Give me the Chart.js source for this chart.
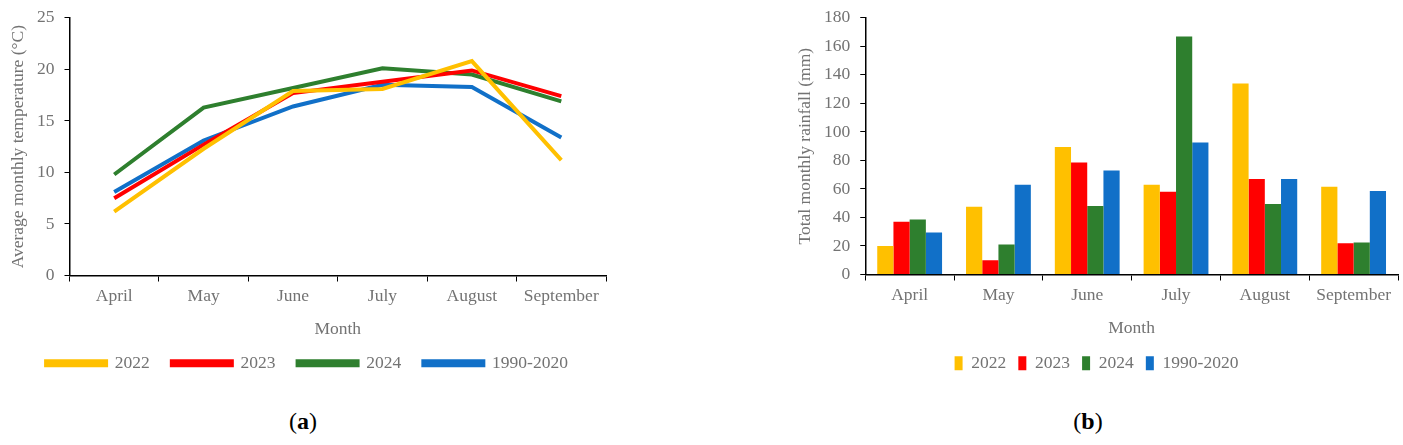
<!DOCTYPE html>
<html>
<head>
<meta charset="utf-8">
<script src="https://cdn.jsdelivr.net/npm/chart.js@4"></script>
<style>
  html, body { margin: 0; padding: 0; background: #fff; }
  body { width: 1403px; height: 445px; position: relative; overflow: hidden; }
  .box { position: absolute; top: 0; }
  #left { left: 0; width: 620px; height: 382px; }
  #right { left: 780px; width: 623px; height: 382px; }
  .cap { position: absolute; top: 408px; font-family: "Liberation Serif", serif; font-size: 24px; color: #000; transform: translateX(-50%); }
</style>
</head>
<body>
<div class="box" id="left"><canvas id="temp-canvas"></canvas></div>
<div class="box" id="right"><canvas id="rain-canvas"></canvas></div>
<div class="cap" style="left:303px">(<b>a</b>)</div>
<div class="cap" style="left:1088px">(<b>b</b>)</div>
<script>
const MONTHS = ['April', 'May', 'June', 'July', 'August', 'September']
const SERIES = ['2022', '2023', '2024', '1990-2020']
const COLORS = ['#FFC000', '#FF0000', '#2E7F2E', '#1170C8']

// average monthly temperature (°C)
const TEMP_2022 = [6.2, 12.3, 17.9, 18.1, 20.8, 11.2]
const TEMP_2023 = [7.5, 12.7, 17.7, 18.8, 19.9, 17.4]
const TEMP_2024 = [9.8, 16.3, 18.2, 20.1, 19.5, 16.9]
const TEMP_NORMAL = [8.1, 13.1, 16.4, 18.5, 18.3, 13.4]

// total monthly rainfall (mm)
const RAIN_2022 = [20, 47.5, 89.5, 63, 134, 61.5]
const RAIN_2023 = [37, 10, 78.5, 58, 67, 22]
const RAIN_2024 = [38.5, 21, 48, 167, 49.5, 22.5]
const RAIN_NORMAL = [29.5, 63, 73, 92.5, 67, 58.5]

const FONT = 'Liberation Serif'
const GREY = '#737373'
const FSIZE = 17.5

Chart.defaults.font.family = FONT
Chart.defaults.font.size = FSIZE
Chart.defaults.color = GREY
Chart.defaults.animation = false
Chart.defaults.maintainAspectRatio = false
Chart.defaults.responsive = true

function yAxis(max, step, title){
  return {
    min: 0,
    max: max,
    ticks: { stepSize: step, color: GREY, padding: 10, font: { family: FONT, size: FSIZE, lineHeight: 0.9 } },
    grid: { drawOnChartArea: false, drawTicks: true, tickLength: 5, color: '#000' },
    border: { color: '#000', width: 1.5 },
    title: { display: true, text: title, color: GREY, font: { family: FONT, size: FSIZE }, padding: { top: 0, bottom: -2 } }
  }
}

function xAxis(titleBottom){
  return {
    offset: true,
    ticks: { color: GREY, padding: 4, maxRotation: 0, font: { family: FONT, size: FSIZE } },
    grid: { offset: true, drawOnChartArea: false, drawTicks: true, tickLength: 6, color: '#000' },
    border: { color: '#000', width: 1.5 },
    title: { display: true, text: 'Month', color: GREY, font: { family: FONT, size: FSIZE }, padding: { top: 8, bottom: titleBottom } }
  }
}

const tempData = [TEMP_2022, TEMP_2023, TEMP_2024, TEMP_NORMAL]
new Chart(document.getElementById('temp-canvas'), {
  type: 'line',
  data: {
    labels: MONTHS,
    datasets: SERIES.map((name, i) => ({
      label: name,
      data: tempData[i],
      borderColor: COLORS[i],
      backgroundColor: COLORS[i],
      borderWidth: 4,
      pointRadius: 0,
      tension: 0
    }))
  },
  options: {
    layout: { padding: { top: 5, left: 8, right: 14, bottom: 0 } },
    plugins: {
      legend: {
        position: 'bottom',
        labels: { boxWidth: 60, boxHeight: 4, padding: 22, color: GREY, font: { family: FONT, size: FSIZE } }
      },
      tooltip: { enabled: false }
    },
    scales: {
      x: xAxis(-7),
      y: yAxis(25, 5, 'Average monthly temperature (°C)')
    }
  }
})

const rainData = [RAIN_2022, RAIN_2023, RAIN_2024, RAIN_NORMAL]
new Chart(document.getElementById('rain-canvas'), {
  type: 'bar',
  data: {
    labels: MONTHS,
    datasets: SERIES.map((name, i) => ({
      label: name,
      data: rainData[i],
      backgroundColor: COLORS[i],
      borderWidth: 0,
      categoryPercentage: 0.73,
      barPercentage: 1.0
    }))
  },
  options: {
    layout: { padding: { top: 5, left: 15, right: 5, bottom: 0 } },
    plugins: {
      legend: {
        position: 'bottom',
        labels: { boxWidth: 8, boxHeight: 14, padding: 12, color: GREY, font: { family: FONT, size: FSIZE } }
      },
      tooltip: { enabled: false }
    },
    scales: {
      x: xAxis(4),
      y: yAxis(180, 20, 'Total monthly rainfall (mm)')
    }
  }
})
</script>
</body>
</html>
